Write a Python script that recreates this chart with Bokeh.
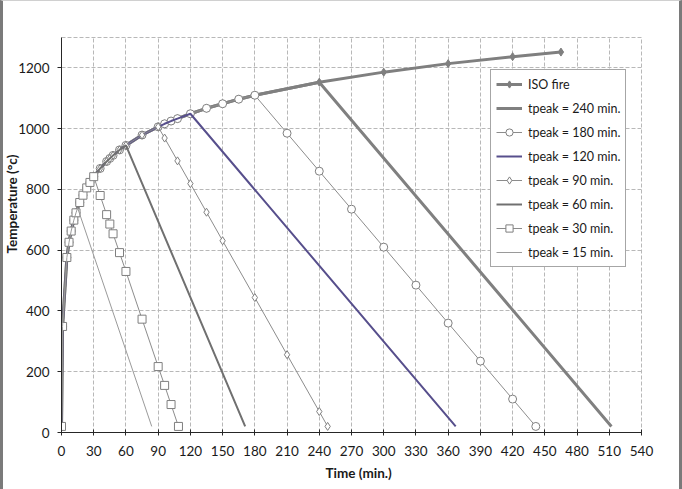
import math
from bokeh.plotting import figure
from bokeh.models import Range1d, FixedTicker, Title, Legend, LegendItem
from bokeh.embed import file_html
from bokeh.resources import INLINE

# ---- data ----
# heating phase along the ISO curve (min, degC)
heat_t = [0, 1, 5, 7, 9, 11.5, 13.5, 17, 20, 23.5, 26.5, 30, 36, 42, 45, 48, 54, 60,
          75, 90, 96, 102, 108, 120, 135, 150, 165, 180]
heat_T = [20, 349, 576, 626, 663, 699, 723, 757, 781, 805, 823, 842, 869, 892, 902, 912, 930, 945,
          979, 1006, 1016, 1025, 1033, 1049, 1067, 1082, 1097, 1110]

iso_tail_t = [240, 300, 360, 420, 465]
iso_tail_T = [1153, 1186, 1214, 1237, 1252]

cool240_t = [240, 512]
cool240_T = [1153, 20]
cool180_t = [210, 240, 270, 300, 330, 360, 390, 420, 441.6]
cool180_T = [985, 860, 735, 610, 485, 360, 235, 110, 20]
cool120_t = [367]
cool120_T = [20]
cool90_t = [96, 108, 120, 135, 150, 180, 210, 240, 247.8]
cool90_T = [969, 894, 819, 725, 631, 444, 256, 69, 20]
cool60_t = [171]
cool60_T = [20]
cool30_t = [36, 42, 45, 48, 54, 60, 75, 90, 96, 102, 108.9]
cool30_T = [780, 717, 686, 654, 592, 530, 373, 217, 155, 92, 20]
cool15_t = [15, 84]
cool15_T = [739, 20]

x_ticks = list(range(0, 541, 30))
y_ticks = [0, 200, 400, 600, 800, 1000, 1200]

labels = ["ISO fire", "tpeak = 240 min.", "tpeak = 180 min.", "tpeak = 120 min.",
          "tpeak = 90 min.", "tpeak = 60 min.", "tpeak = 30 min.", "tpeak = 15 min."]


def series(t_heat_max, ct, cT):
    idx = [i for i, t in enumerate(heat_t) if t <= t_heat_max]
    return [heat_t[i] for i in idx] + ct, [heat_T[i] for i in idx] + cT


FONT = "Lato"

p = figure(width=682, height=489, output_backend="svg", toolbar_location=None,
           x_range=Range1d(0, 540), y_range=Range1d(0, 1300),
           min_border_left=58, min_border_right=44, min_border_top=36, min_border_bottom=58,
           background_fill_color="white", border_fill_color="white",
           styles={"border-left": "3px solid #7a7a7a", "border-right": "3px solid #7a7a7a",
                   "border-top": "1px solid #d0d0d0"})
p.title.visible = False

p.outline_line_color = "#b8b8b8"
p.outline_line_dash = "4 2"
p.outline_line_width = 1

p.xaxis.ticker = FixedTicker(ticks=x_ticks)
p.yaxis.ticker = FixedTicker(ticks=y_ticks)
for ax in (p.xaxis, p.yaxis):
    ax.axis_line_color = "#262626"
    ax.major_tick_line_color = "#262626"
    ax.minor_tick_line_color = None
    ax.major_label_text_font = FONT
    ax.major_label_text_font_size = "13.5px"
    ax.major_label_text_color = "#1a1a1a"
p.xaxis.major_tick_in = 3
p.xaxis.major_tick_out = 3
p.xaxis.major_label_standoff = 10
p.yaxis.major_tick_in = 0
p.yaxis.major_tick_out = 4
p.yaxis.major_label_standoff = 8

p.xgrid.grid_line_color = "#b8b8b8"
p.ygrid.grid_line_color = "#b8b8b8"
p.xgrid.grid_line_dash = "4 2"
p.ygrid.grid_line_dash = "4 2"

GRAY = "#7f7f7f"

items = []

# ISO fire
it = heat_t + iso_tail_t
iT = heat_T + iso_tail_T
r1 = p.line(it, iT, line_color=GRAY, line_width=3)
r2 = p.scatter(it, iT, marker="diamond", size=8, fill_color=GRAY, line_color=GRAY)
items.append(LegendItem(label=labels[0], renderers=[r1, r2]))

# tpeak = 240
t, T = series(180, cool240_t, cool240_T)
r = p.line(t, T, line_color="#808080", line_width=3)
items.append(LegendItem(label=labels[1], renderers=[r]))

# tpeak = 180
t, T = series(180, cool180_t, cool180_T)
r1 = p.line(t, T, line_color="#8c8c8c", line_width=1)
r2 = p.scatter(t, T, marker="circle", size=8, fill_color="white", line_color=GRAY)
items.append(LegendItem(label=labels[2], renderers=[r1, r2]))

# tpeak = 120
t, T = series(120, cool120_t, cool120_T)
r = p.line(t, T, line_color="#574f8c", line_width=2)
items.append(LegendItem(label=labels[3], renderers=[r]))

# tpeak = 90
t, T = series(90, cool90_t, cool90_T)
r1 = p.line(t, T, line_color="#8c8c8c", line_width=1)
r2 = p.scatter(t, T, marker="diamond", size=8, fill_color="white", line_color=GRAY)
items.append(LegendItem(label=labels[4], renderers=[r1, r2]))

# tpeak = 60
t, T = series(60, cool60_t, cool60_T)
r = p.line(t, T, line_color="#707070", line_width=2)
items.append(LegendItem(label=labels[5], renderers=[r]))

# tpeak = 30
t, T = series(30, cool30_t, cool30_T)
r1 = p.line(t, T, line_color="#8c8c8c", line_width=1)
r2 = p.scatter(t, T, marker="square", size=8, fill_color="white", line_color=GRAY)
items.append(LegendItem(label=labels[6], renderers=[r1, r2]))

# tpeak = 15
t, T = series(13.5, cool15_t, cool15_T)
r = p.line(t, T, line_color="#9a9a9a", line_width=1)
items.append(LegendItem(label=labels[7], renderers=[r]))

legend = Legend(items=items, location=(429, 165), margin=0, padding=5,
                spacing=6, label_height=18, glyph_height=18, glyph_width=26,
                label_standoff=6, label_text_font=FONT, label_text_font_size="12.5px",
                label_text_color="#1a1a1a", border_line_color="#4d4d4d",
                border_line_width=1, background_fill_color="white", background_fill_alpha=1)
p.add_layout(legend)

# axis titles as side-panel titles
ytitle = Title(text="Temperature (°c)", align="left", offset=179, standoff=-9,
               text_font=FONT, text_font_style="bold", text_font_size="13.5px",
               text_color="#1a1a1a")
xtitle = Title(text="Time (min.)", align="left", offset=264, standoff=9,
               text_font=FONT, text_font_style="bold", text_font_size="13.5px",
               text_color="#1a1a1a")
p.add_layout(ytitle, "left")
p.add_layout(xtitle, "below")

open("out.html", "w").write(file_html(p, INLINE))
